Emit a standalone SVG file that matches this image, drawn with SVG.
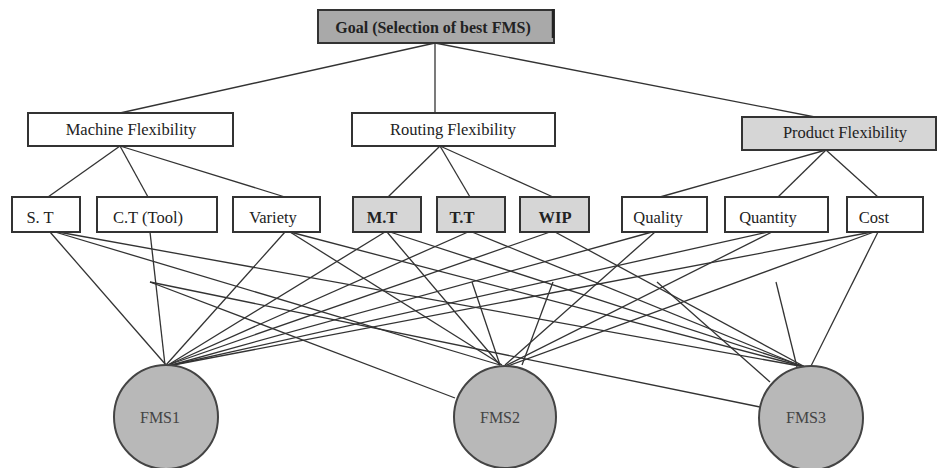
<svg xmlns="http://www.w3.org/2000/svg" width="938" height="468" viewBox="0 0 938 468">
<style>
.box{stroke:#333;stroke-width:2;fill:#fff}
.dark{fill:#a9a9a9}
.light{fill:#d6d6d6}
.circ{fill:#b8b8b8;stroke:#444;stroke-width:2}
text{font-family:"Liberation Serif","Times New Roman",serif;font-size:16.5px;fill:#222;text-anchor:middle}
.b{font-weight:bold}
.g{font-size:16px}
.fms{fill:#444;font-size:16px}
#connectors line{stroke:#333;stroke-width:1.3}
</style>
<rect width="938" height="468" fill="#fff"/>
<g id="connectors">
<line x1="435" y1="43" x2="120" y2="113"/>
<line x1="435" y1="43" x2="435" y2="113"/>
<line x1="435" y1="43" x2="820" y2="118"/>
<line x1="120" y1="146" x2="48" y2="197"/>
<line x1="120" y1="146" x2="148" y2="197"/>
<line x1="120" y1="146" x2="285" y2="197"/>
<line x1="440" y1="146" x2="388" y2="197"/>
<line x1="440" y1="146" x2="470" y2="197"/>
<line x1="440" y1="146" x2="553" y2="197"/>
<line x1="826" y1="150" x2="660" y2="197"/>
<line x1="826" y1="150" x2="778" y2="197"/>
<line x1="826" y1="150" x2="878" y2="197"/>
<line x1="50" y1="232" x2="166" y2="365"/>
<line x1="55" y1="232" x2="500" y2="365"/>
<line x1="58" y1="232" x2="805" y2="367"/>
<line x1="150" y1="232" x2="165" y2="365"/>
<line x1="150" y1="282" x2="455" y2="398"/>
<line x1="150" y1="282" x2="760" y2="407"/>
<line x1="285" y1="232" x2="166" y2="365"/>
<line x1="290" y1="232" x2="502" y2="365"/>
<line x1="290" y1="232" x2="805" y2="367"/>
<line x1="385" y1="232" x2="168" y2="365"/>
<line x1="387" y1="232" x2="500" y2="365"/>
<line x1="390" y1="232" x2="806" y2="367"/>
<line x1="468" y1="232" x2="168" y2="365"/>
<line x1="472" y1="282" x2="500" y2="365"/>
<line x1="472" y1="232" x2="806" y2="368"/>
<line x1="550" y1="232" x2="168" y2="365"/>
<line x1="553" y1="282" x2="522" y2="365"/>
<line x1="555" y1="232" x2="807" y2="368"/>
<line x1="652" y1="232" x2="168" y2="366"/>
<line x1="655" y1="232" x2="505" y2="365"/>
<line x1="657" y1="282" x2="770" y2="382"/>
<line x1="768" y1="232" x2="168" y2="366"/>
<line x1="772" y1="232" x2="505" y2="366"/>
<line x1="776" y1="282" x2="797" y2="367"/>
<line x1="872" y1="232" x2="168" y2="366"/>
<line x1="874" y1="232" x2="508" y2="366"/>
<line x1="878" y1="232" x2="810" y2="368"/>
</g>
<g id="goal"><rect class="box dark" x="318" y="10" width="236" height="33"/><line x1="553" y1="9" x2="553" y2="38" stroke="#222" stroke-width="2.5"/><text class="b g" x="433" y="33">Goal (Selection of best FMS)</text></g>
<g id="machine"><rect class="box" x="28" y="113" width="205" height="33"/><text x="131" y="135">Machine Flexibility</text></g>
<g id="routing"><rect class="box" x="352" y="113" width="203" height="33"/><text x="453" y="135">Routing Flexibility</text></g>
<g id="product"><rect class="box light" x="742" y="117" width="194" height="33"/><text x="845" y="138">Product Flexibility</text></g>
<g id="st"><rect class="box" x="12" y="197" width="68" height="35"/><text x="40" y="223">S. T</text></g>
<g id="ct"><rect class="box" x="97" y="197" width="120" height="35"/><text x="148" y="223">C.T (Tool)</text></g>
<g id="variety"><rect class="box" x="233" y="197" width="87" height="35"/><text x="273" y="223">Variety</text></g>
<g id="mt"><rect class="box light" x="353" y="197" width="68" height="35"/><text class="b" x="382" y="223">M.T</text></g>
<g id="tt"><rect class="box light" x="437" y="197" width="68" height="35"/><text class="b" x="462" y="223">T.T</text></g>
<g id="wip"><rect class="box light" x="520" y="197" width="69" height="35"/><text class="b" x="555" y="223">WIP</text></g>
<g id="quality"><rect class="box" x="622" y="197" width="85" height="35"/><text x="658" y="223">Quality</text></g>
<g id="quantity"><rect class="box" x="725" y="197" width="103" height="35"/><text x="768" y="223">Quantity</text></g>
<g id="cost"><rect class="box" x="847" y="197" width="76" height="35"/><text x="874" y="223">Cost</text></g>
<g id="fms1"><circle class="circ" cx="166" cy="417" r="52"/><text class="fms" x="160" y="423">FMS1</text></g>
<g id="fms2"><circle class="circ" cx="505" cy="417" r="51"/><text class="fms" x="500" y="423">FMS2</text></g>
<g id="fms3"><circle class="circ" cx="811" cy="418" r="52"/><text class="fms" x="806" y="423">FMS3</text></g>
</svg>
